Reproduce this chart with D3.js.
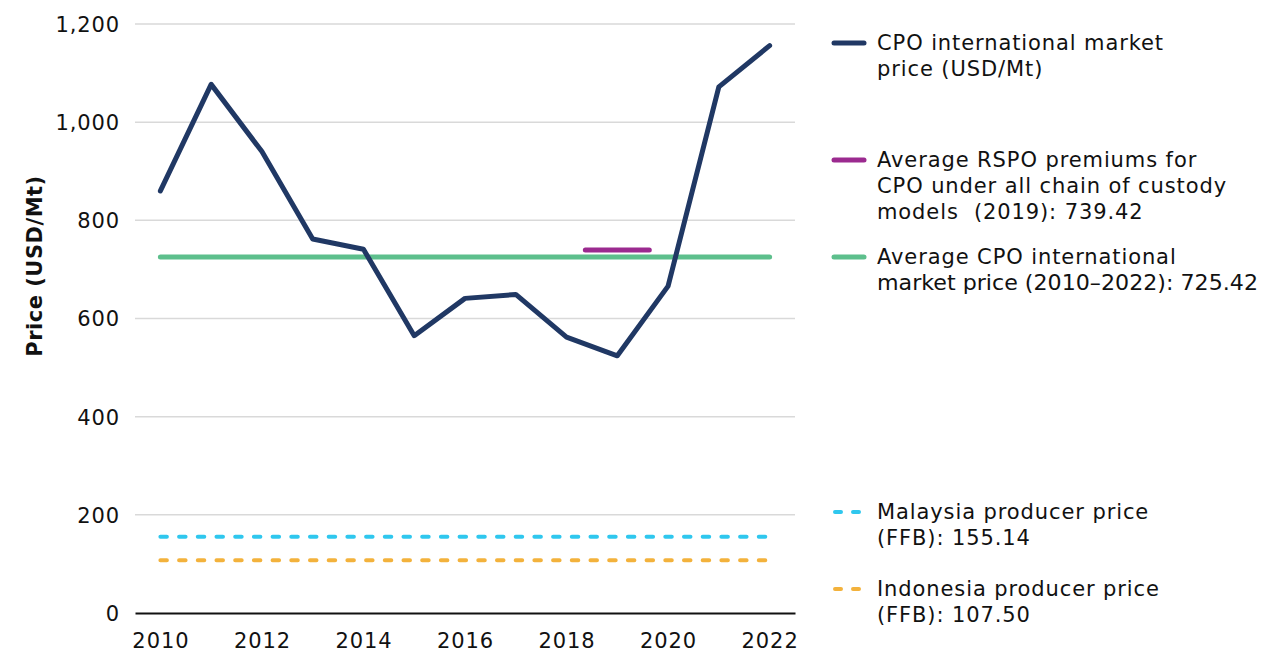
<!DOCTYPE html>
<html>
<head>
<meta charset="utf-8">
<script src="https://cdn.jsdelivr.net/npm/d3@7"></script>
<style>
  body { margin: 0; background: #fff; }
  svg text { font-family: "DejaVu Sans", sans-serif; fill: #111; letter-spacing: 0.9px; }
</style>
</head>
<body>
<svg id="chart" width="1263" height="653"></svg>
<script>
// data
const years = [2010, 2011, 2012, 2013, 2014, 2015, 2016, 2017, 2018, 2019, 2020, 2021, 2022];
const cpoPrice = [860, 1077, 940, 762, 741, 565, 641, 649, 562, 524, 666, 1072, 1156];
const cpoAverage = 725.42;
const rspoPremium = 739.42;
const rspoYear = 2019;
const malaysiaFFB = 155.14;
const indonesiaFFB = 107.50;
const yTicks = [0, 200, 400, 600, 800, 1000, 1200];
const xTickYears = [2010, 2012, 2014, 2016, 2018, 2020, 2022];

const colors = {
  cpo: '#203864',
  rspo: '#9b2a8f',
  avg: '#5dbf8c',
  malaysia: '#2fc7ee',
  indonesia: '#f3b23c'
};

const legendItems = [
  { key: 'cpo', y: 43, dashed: false, lines: ['CPO international market', 'price (USD/Mt)'] },
  { key: 'rspo', y: 160, dashed: false, lines: ['Average RSPO premiums for', 'CPO under all chain of custody', 'models  (2019): 739.42'] },
  { key: 'avg', y: 257, dashed: false, lines: ['Average CPO international', 'market price (2010\u20132022): 725.42'] },
  { key: 'malaysia', y: 512, dashed: true, lines: ['Malaysia producer price', '(FFB): 155.14'] },
  { key: 'indonesia', y: 589, dashed: true, lines: ['Indonesia producer price', '(FFB): 107.50'] }
];

const svg = d3.select('#chart');
const plot = { left: 135, right: 795, top: 24, bottom: 613 };

const x = d3.scalePoint().domain(years).range([plot.left, plot.right]).padding(0.5);
const y = d3.scaleLinear().domain([0, 1200]).range([plot.bottom, plot.top]);
const step = x.step();

// gridlines
svg.append('g')
  .selectAll('line')
  .data(yTicks.filter(d => d > 0))
  .join('line')
  .attr('x1', plot.left).attr('x2', plot.right)
  .attr('y1', d => y(d)).attr('y2', d => y(d))
  .attr('stroke', '#d9d9d9').attr('stroke-width', 1.5);

// y axis labels
const yAxis = svg.append('g')
  .attr('transform', `translate(${plot.left},0)`)
  .call(d3.axisLeft(y).tickValues(yTicks).tickSize(0).tickPadding(15).tickFormat(d3.format(',')));
yAxis.select('.domain').remove();
yAxis.selectAll('text').style('font-size', '21px').style('font-family', '"DejaVu Sans", sans-serif').attr('dy', '0.35em');

// x axis
const xAxis = svg.append('g')
  .attr('transform', `translate(0,${plot.bottom})`)
  .call(d3.axisBottom(x).tickValues(xTickYears).tickSize(0).tickPadding(20));
xAxis.select('.domain').attr('stroke', '#111').attr('stroke-width', 2);
xAxis.selectAll('text').style('font-size', '21px').style('font-family', '"DejaVu Sans", sans-serif');

// axis title
svg.append('text')
  .attr('transform', `translate(35,266) rotate(-90)`)
  .attr('text-anchor', 'middle')
  .attr('dy', '0.35em')
  .style('font-size', '21px')
  .style('font-weight', 'bold')
  .style('letter-spacing', '0.5px')
  .text('Price (USD/Mt)');

const x0 = x(years[0]), x1 = x(years[years.length - 1]);

// horizontal reference lines
function hline(value, color, width, dashed) {
  svg.append('line')
    .attr('x1', x0).attr('x2', x1)
    .attr('y1', y(value)).attr('y2', y(value))
    .attr('stroke', color).attr('stroke-width', width)
    .attr('stroke-linecap', 'round')
    .attr('stroke-dasharray', dashed ? '6.5 12.2' : null);
}
hline(indonesiaFFB, colors.indonesia, 4, true);
hline(malaysiaFFB, colors.malaysia, 4, true);
hline(cpoAverage, colors.avg, 5, false);

// RSPO premium segment around 2019
svg.append('line')
  .attr('x1', x(rspoYear) - step * 0.63).attr('x2', x(rspoYear) + step * 0.63)
  .attr('y1', y(rspoPremium)).attr('y2', y(rspoPremium))
  .attr('stroke', colors.rspo).attr('stroke-width', 5)
  .attr('stroke-linecap', 'round');

// CPO price line
const line = d3.line()
  .x((d, i) => x(years[i]))
  .y(d => y(d));
svg.append('path')
  .datum(cpoPrice)
  .attr('d', line)
  .attr('fill', 'none')
  .attr('stroke', colors.cpo)
  .attr('stroke-width', 5)
  .attr('stroke-linejoin', 'round')
  .attr('stroke-linecap', 'round');

// legend
const legendX = 877, legendMaxW = 381;
const legend = svg.append('g');
legendItems.forEach(item => {
  const g = legend.append('g');
  g.append('line')
    .attr('x1', item.dashed ? 835 : 834).attr('x2', item.dashed ? 861 : 864)
    .attr('y1', item.y).attr('y2', item.y)
    .attr('stroke', colors[item.key])
    .attr('stroke-width', item.dashed ? 4 : 5)
    .attr('stroke-linecap', 'round')
    .attr('stroke-dasharray', item.dashed ? '6 12' : null);
  item.lines.forEach((t, i) => {
    const txt = g.append('text')
      .attr('x', legendX)
      .attr('y', item.y + i * 26)
      .attr('dy', '0.35em')
      .style('font-size', '21px')
      .style('white-space', 'pre')
      .text(t);
    // squeeze lines that would run off the right edge
    if (txt.node().getComputedTextLength() > legendMaxW) {
      txt.style('letter-spacing', '0px')
        .attr('textLength', legendMaxW)
        .attr('lengthAdjust', 'spacingAndGlyphs');
    }
  });
});
</script>
</body>
</html>
